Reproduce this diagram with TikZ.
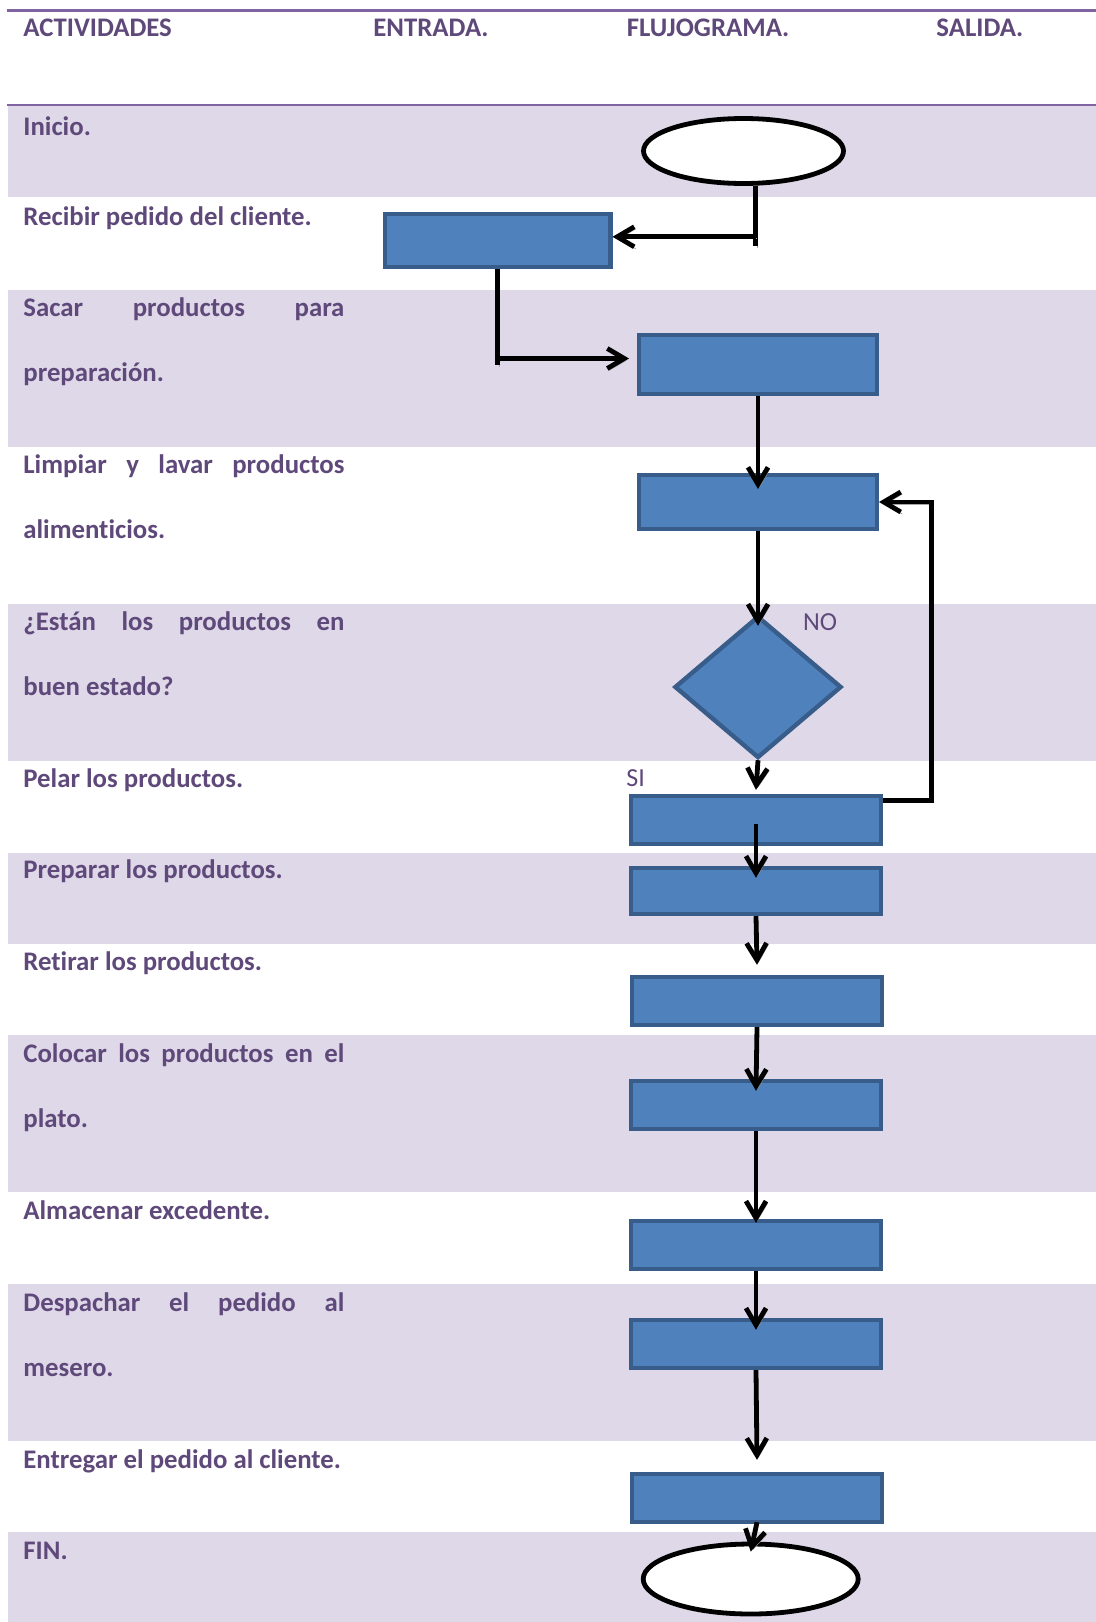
\documentclass[tikz,border=0pt]{standalone}
\usepackage{fontspec}
\setmainfont{Carlito}[Ligatures={NoCommon}]
\usetikzlibrary{arrows.meta,positioning,shapes.geometric,calc}
\definecolor{bandlila}{HTML}{DFD8E8}
\definecolor{rulelila}{HTML}{8064A2}
\definecolor{textlila}{HTML}{5F497A}
\definecolor{boxblue}{HTML}{4F81BD}
\definecolor{boxedge}{HTML}{385D8A}
\tikzstyle{flow} = [line width=2.4pt,-{Straight Barb[length=8.5pt,width=10pt]},
  preaction={draw=black!35, transform canvas={shift={(0.8pt,-1pt)}}}]
\tikzstyle{line} = [line width=2.4pt,
  preaction={draw=black!35, transform canvas={shift={(0.8pt,-1pt)}}}]
\newcommand{\jline}[1]{{\spaceskip=0pt\xspaceskip=0pt\makebox[160.5pt][s]{#1}}}

\begin{document}
\begin{tikzpicture}[
    x=0.5pt, y=-0.5pt,
    every node/.style={font=\fontsize{13.4}{32.5}\selectfont\bfseries, text=textlila},
    act/.style={anchor=base west, inner sep=0pt},
    actlong/.style={anchor=base west, inner sep=0pt, text width=160.5pt,
        execute at begin node={\spaceskip=0pt\xspaceskip=0pt}},
    head/.style={anchor=base west, inner sep=0pt},
    box/.style={
        draw=boxedge,
        fill=boxblue,
        line width=2.2pt,
        inner sep=0pt,
        minimum width=125pt,
        minimum height=24pt
    },
    term/.style={
        ellipse,
        draw=black,
        fill=white,
        line width=2.4pt,
        inner sep=0pt
    },
    decision/.style={
        diamond,
        draw=boxedge,
        fill=boxblue,
        line width=2.2pt,
        inner sep=0pt,
        minimum width=83.5pt,
        minimum height=71pt
    },
    lbl/.style={font=\fontsize{13}{15}\selectfont, anchor=base west, inner sep=0pt}
]

\useasboundingbox (0,0) rectangle (1096,1622);
\fill[white] (0,0) rectangle (1096,1622);

% shaded rows of the table
\foreach \top/\bot in {105.5/197, 290/446.7, 604/761, 853/944, 1035/1192, 1284/1441, 1532/1622}
    \fill[bandlila] (8,\top) rectangle (1096,\bot);
\draw[rulelila, line width=1.4pt] (7,10.5) -- (1096,10.5);
\draw[rulelila, line width=1.4pt] (7,105) -- (1096,105);

% header
\node[head] (hact) at (23,36) {ACTIVIDADES};
\node[head] (hin) at (373,36) {ENTRADA.};
\node[head] (hflow) at (626.5,36) {FLUJOGRAMA.};
\node[head] (hout) at (936,36) {SALIDA.};

% activities
\node[act] (a1) at (23,135.5) {Inicio.};
\node[act] (a2) at (23,225) {Recibir pedido del cliente.};
\node[actlong] (a3) at (23,316) {\jline{Sacar productos para}\\preparación.};
\node[actlong] (a4) at (23,473) {\jline{Limpiar y lavar productos}\\alimenticios.};
\node[actlong] (a5) at (23,630) {\jline{¿Están los productos en}\\buen estado?};
\node[act] (a6) at (23,787) {Pelar los productos.};
\node[act] (a7) at (23,878) {Preparar los productos.};
\node[act] (a8) at (23,970) {Retirar los productos.};
\node[actlong] (a9) at (23,1062) {\jline{Colocar los productos en el}\\plato.};
\node[act] (a10) at (23,1219) {Almacenar excedente.};
\node[actlong] (a11) at (23,1311) {\jline{Despachar el pedido al}\\mesero.};
\node[act] (a12) at (23,1468) {Entregar el pedido al cliente.};
\node[act] (a13) at (23,1559) {FIN.};

% flowchart
\node[term, minimum width=100pt, minimum height=32.5pt] (inicio) at (743.5,151) {};
\node[box, minimum width=112.8pt, minimum height=26.3pt] (recibir) at (497.5,240.4) {};
\node[box, minimum width=118.8pt, minimum height=29.3pt] (sacar) at (758,364.5) {};
\node[box, minimum width=118.8pt, minimum height=26.8pt] (limpiar) at (758,502) {};
\node[decision] (estado) at (758,687) {};
\node[box] (pelar) at (756,820) {};
\node[box, minimum height=23pt] (preparar) at (756,891) {};
\node[box] (retirar) at (757,1001) {};
\node[box] (colocar) at (756,1105) {};
\node[box] (almacenar) at (756,1245) {};
\node[box] (despachar) at (756,1344) {};
\node[box] (entregar) at (757,1498) {};
\node[term, minimum width=107.5pt, minimum height=35pt] (fin) at (750.7,1579) {};

\node[lbl] (no) at (802.7,630) {NO};
\node[lbl] (si) at (626,786) {SI};

\coordinate (drop) at ([xshift=6pt]inicio.south);
\draw[line] (drop) -- ++(0,60);
\draw[flow] ([yshift=1.8pt]drop |- recibir.east) -- ([yshift=1.8pt]recibir.east);
\draw[line] (recibir.south) -- ++(0,96);
\draw[flow] ([yshift=3pt]recibir.south |- sacar.west) -- ([xshift=-4pt,yshift=3pt]sacar.west);
\draw[flow] (sacar.south) -- ([yshift=-8pt]limpiar.north);
\draw[flow] (limpiar.south) -- ([yshift=-6pt]estado.north);
\draw[flow] (estado.south) -- ([yshift=2pt]pelar.north);
\draw[flow] ([yshift=-2pt]pelar.center) -- ([yshift=-6pt]preparar.north);
\draw[flow] (preparar.south) -- ([yshift=5pt]retirar.north);
\draw[flow] (retirar.south) -- ([yshift=-6pt]colocar.north);
\draw[flow] (colocar.south) -- ([yshift=-2pt]almacenar.north);
\draw[flow] (almacenar.south) -- ([yshift=-6pt]despachar.north);
\draw[flow] (despachar.south) -- ([yshift=6pt]entregar.north);
\draw[flow] ([yshift=1pt]entregar.south) -- ([yshift=-5pt]fin.north);
\draw[flow] ([yshift=-3.5pt]pelar.north east) -- ++(48,0) |- (limpiar.east);

\end{tikzpicture}
\end{document}
